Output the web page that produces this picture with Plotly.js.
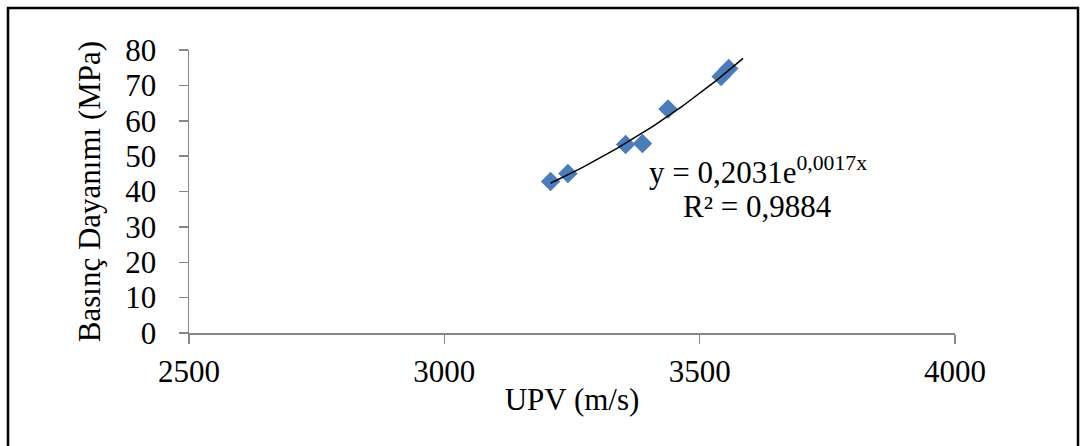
<!DOCTYPE html>
<html>
<head>
<meta charset="utf-8">
<script src="https://cdn.plot.ly/plotly-3.0.1.min.js"></script>
<style>
html,body{margin:0;padding:0;background:#fff;}
#chart{width:1082px;height:446px;}
</style>
</head>
<body>
<div id="chart"></div>
<script>
// Data
const upv = [3208, 3242, 3355, 3388, 3438, 3542, 3557];
const strength = [42.8, 45.1, 53.3, 53.6, 63.3, 72.5, 74.8];
const xTickVals = [2500, 3000, 3500, 4000];
const yTickVals = [0, 10, 20, 30, 40, 50, 60, 70, 80];
const trendEnd = 3585;

// Exponential trendline (least squares on ln y), as in the spreadsheet
const n = upv.length;
const ly = strength.map(v => Math.log(v));
const mx = upv.reduce((a, b) => a + b, 0) / n;
const my = ly.reduce((a, b) => a + b, 0) / n;
let sxy = 0, sxx = 0;
for (let i = 0; i < n; i++) { sxy += (upv[i] - mx) * (ly[i] - my); sxx += (upv[i] - mx) ** 2; }
const b = sxy / sxx, a = Math.exp(my - b * mx);
const tx = [], ty = [];
const x0 = Math.min(...upv);
for (let k = 0; k <= 60; k++) { const x = x0 + (trendEnd - x0) * k / 60; tx.push(x); ty.push(a * Math.exp(b * x)); }

const FS = 31;
const font = {family: '"Liberation Serif", "Times New Roman", serif', color: '#000', size: FS};
const axisColor = '#868686';

const traces = [
  {x: upv, y: strength, type: 'scatter', mode: 'markers',
   marker: {symbol: 'diamond', size: 15, color: '#4A7EBB'}, showlegend: false, hoverinfo: 'x+y'},
  {x: tx, y: ty, type: 'scatter', mode: 'lines', line: {color: '#000', width: 1.5}, showlegend: false, hoverinfo: 'skip'}
];

const L = 189, R = 955, T = 50, B = 333, W = 1082, H = 446;
const pw = R - L, ph = B - T;
const px = v => (v - L) / pw, py = v => (B - v) / ph;

const layout = {
  width: W, height: H,
  margin: {l: L, r: W - R, t: T, b: H - B},
  paper_bgcolor: '#fff', plot_bgcolor: '#fff',
  font: font,
  xaxis: {range: [2500, 4000], tickvals: xTickVals, ticktext: xTickVals.map(String),
    showgrid: false, zeroline: false, showline: true, linecolor: axisColor, linewidth: 1.5,
    ticks: 'outside', ticklen: 9, tickcolor: axisColor, tickwidth: 1.5, ticklabelstandoff: 1,
    tickfont: font,
    title: {text: 'UPV (m/s)', font: font, standoff: 0}},
  yaxis: {range: [0, 80], tickvals: yTickVals, ticktext: yTickVals.map(String),
    showgrid: false, zeroline: false, showline: true, linecolor: axisColor, linewidth: 1.5,
    ticks: 'outside', ticklen: 9, tickcolor: axisColor, tickwidth: 1.5, ticklabelstandoff: 16,
    tickfont: font,
    title: {text: 'Basınç Dayanımı (MPa)', font: font, standoff: 15}},
  annotations: [
    {xref: 'paper', yref: 'paper', x: px(758), y: py(170), text: 'y = 0,2031e<sup>0,0017x</sup>',
     showarrow: false, xanchor: 'center', yanchor: 'middle', font: font},
    {xref: 'paper', yref: 'paper', x: px(757), y: py(207), text: 'R² = 0,9884',
     showarrow: false, xanchor: 'center', yanchor: 'middle', font: font}
  ],
  shapes: [
    {type: 'path', xref: 'paper', yref: 'paper',
     path: `M ${px(8)} ${py(460)} L ${px(8)} ${py(8)} L ${px(1078)} ${py(8)} L ${px(1078)} ${py(460)}`,
     line: {color: '#000', width: 2.5}}
  ]
};

Plotly.newPlot('chart', traces, layout, {displayModeBar: false, staticPlot: true});
</script>
</body>
</html>
